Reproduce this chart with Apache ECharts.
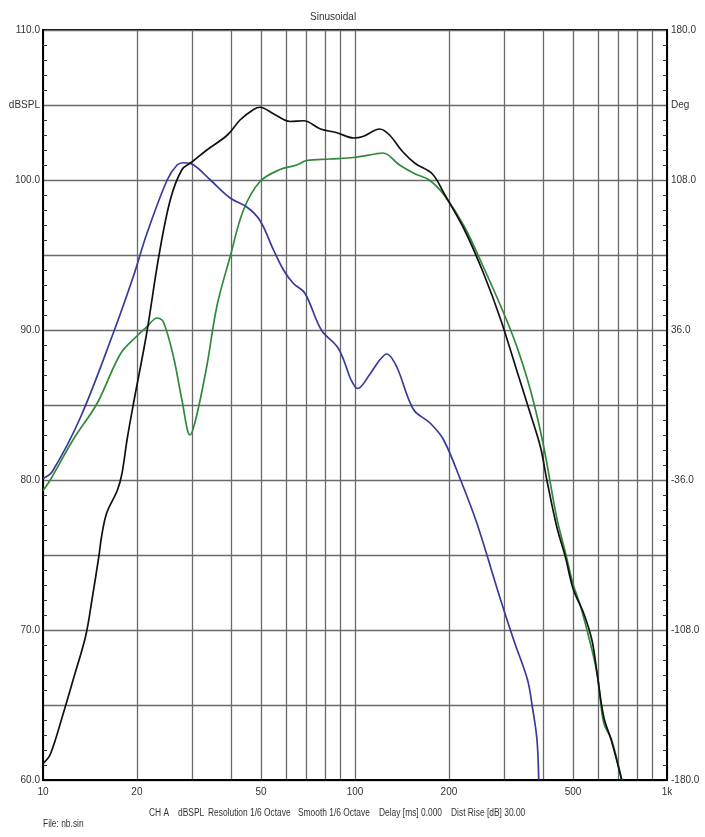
<!DOCTYPE html>
<html>
<head>
<meta charset="utf-8">
<script src="https://cdn.jsdelivr.net/npm/echarts@6/dist/echarts.min.js"></script>
<style>
  html, body { margin: 0; padding: 0; background: #fff; }
  #chart { width: 705px; height: 837px; }
</style>
</head>
<body>
<div id="chart"></div>
<script>
// frequency response readings (Hz / dBSPL)
const blackFreq = [10, 10.55, 11.6, 12.5, 13.7, 14.4, 15.1, 15.4, 16.0, 17.3, 17.9, 18.6, 19.5, 21.5, 23.5, 25.6, 27.9, 30, 33.5, 39, 42.8, 47.3, 49.6, 54.9, 62, 68.5, 77.5, 87.6, 99, 106, 120, 129, 142, 156, 177, 193, 224, 258, 293, 330, 365, 393, 412, 443, 472, 501, 541, 575, 597, 627, 664, 716];
const blackDb = [61.1, 61.7, 64.4, 66.7, 69.6, 72.2, 74.9, 76.2, 77.8, 79.3, 80.4, 82.7, 85.1, 89.8, 94.9, 98.7, 100.7, 101.2, 102.0, 103.0, 104.0, 104.7, 104.85, 104.4, 103.9, 103.95, 103.4, 103.15, 102.8, 102.9, 103.4, 103.0, 101.9, 101.1, 100.4, 99.1, 96.7, 93.8, 90.7, 87.3, 84.4, 82.2, 80.0, 76.9, 74.9, 72.7, 71.1, 69.3, 67.1, 64.2, 62.6, 60.0];

const blueFreq = [10, 10.7, 13.2, 16.8, 19.5, 21.5, 25, 26.9, 28.2, 30.4, 34.4, 39.8, 45, 49.6, 54.9, 59, 63.5, 69.1, 78, 87.6, 92, 97, 102, 112, 120, 126.4, 136, 154, 174, 192, 218, 246, 293, 323, 357, 370, 383, 388];
const blueDb = [80.1, 80.55, 84.2, 89.8, 93.6, 96.4, 100, 101, 101.15, 101, 100, 98.8, 98.2, 97.3, 95.3, 94, 93.1, 92.45, 90, 88.9, 88.0, 86.7, 86.1, 87.1, 88.0, 88.4, 87.55, 84.7, 83.8, 82.7, 80, 77.1, 72, 69.3, 66.7, 64.9, 62.7, 60];

const greenFreq = [10, 10.55, 12.5, 14.9, 17.7, 20, 21.5, 23.2, 24.3, 26.2, 27.9, 29.6, 31, 33.5, 36.1, 39.8, 43.9, 49.6, 57.5, 65, 70, 83, 99, 117, 123, 139, 156, 173, 193, 224, 258, 300, 330, 365, 401, 443, 472, 501, 528, 565, 597, 627, 664, 716];
const greenDb = [79.3, 80, 82.7, 85.1, 88.4, 89.6, 90.2, 90.8, 90.55, 88.2, 85.3, 83, 84.2, 87.6, 91.6, 94.9, 98, 99.9, 100.7, 101, 101.3, 101.4, 101.5, 101.75, 101.8, 101.0, 100.4, 100.0, 99.0, 96.9, 94.2, 91.1, 88.9, 86, 82.4, 77.5, 75.2, 73, 71.6, 69.3, 67.1, 63.8, 62.7, 60];

// axis ticks / labels
const freqGrid = [10, 20, 30, 40, 50, 60, 70, 80, 90, 100, 200, 300, 400, 500, 600, 700, 800, 900, 1000];
const freqLabels = [10, 20, 50, 100, 200, 500, 1000];

// footer text pieces and where they start
const footerParts = ['CH A', 'dBSPL', 'Resolution 1/6 Octave', 'Smooth 1/6 Octave', 'Delay [ms] 0.000', 'Dist Rise [dB] 30.00'];
const footerLeft = [149, 178, 208, 298, 379, 451];

const chart = echarts.init(document.getElementById('chart'));

const zip = (xs, ys) => xs.map((x, i) => [x, ys[i]]);
const txt = { fontFamily: 'Liberation Sans, Arial, sans-serif', fontSize: 10, color: '#333' };
const narrowFont = '10px "Liberation Sans", Arial, sans-serif';

// condensed text like the original software's footer
const narrowText = (text, x, y) => ({
  type: 'text',
  x: x,
  y: y,
  scaleX: 0.84,
  style: { text: text, font: narrowFont, fill: '#333', verticalAlign: 'middle' }
});

const lineSeries = (name, xs, ys, color) => ({
  name: name,
  type: 'line',
  data: zip(xs, ys),
  showSymbol: false,
  smooth: 0.35,
  clip: true,
  lineStyle: { color: color, width: 1.7 },
  z: 5
});

chart.setOption({
  backgroundColor: '#fff',
  animation: false,
  title: { text: 'Sinusoidal', left: 310, top: 12, padding: 0, textStyle: { ...txt, fontWeight: 'normal' } },
  graphic: [
    ...footerParts.map((t, i) => narrowText(t, footerLeft[i], 813)),
    narrowText('File: nb.sin', 43, 824)
  ],
  grid: {
    left: 43, right: 38, top: 30, bottom: 57,
    show: true, borderColor: '#000', borderWidth: 2, backgroundColor: '#fff'
  },
  xAxis: {
    type: 'log',
    logBase: 10,
    min: 10,
    max: 1000,
    axisLine: { show: true, onZero: false, lineStyle: { color: '#000', width: 2 } },
    axisTick: { show: false, customValues: freqGrid },
    axisLabel: {
      ...txt,
      margin: 7,
      customValues: freqLabels,
      formatter: v => (v >= 1000 ? '1k' : String(Math.round(v)))
    },
    splitLine: { show: true, lineStyle: { color: '#6a6a6a', width: 1.3 } }
  },
  yAxis: [
    {
      type: 'value',
      position: 'left',
      min: 60,
      max: 110,
      interval: 5,
      axisLine: { show: true, onZero: false, lineStyle: { color: '#000', width: 2 } },
      axisTick: { show: false, inside: true },
      minorTick: { show: true, splitNumber: 5, length: 4, lineStyle: { color: '#333', width: 1 } },
      axisLabel: {
        ...txt,
        margin: 3,
        formatter: v => (v === 105 ? 'dBSPL' : (v % 10 === 0 ? v.toFixed(1) : ''))
      },
      splitLine: { show: true, lineStyle: { color: '#6a6a6a', width: 1.3 } }
    },
    {
      type: 'value',
      position: 'right',
      min: -180,
      max: 180,
      interval: 36,
      axisLine: { show: true, onZero: false, lineStyle: { color: '#000', width: 2 } },
      axisTick: { show: false, inside: true },
      minorTick: { show: true, splitNumber: 5, length: 4, lineStyle: { color: '#333', width: 1 } },
      axisLabel: {
        ...txt,
        margin: 4,
        formatter: v => (v === 144 ? 'Deg' : ((v + 180) % 72 === 0 ? v.toFixed(1) : ''))
      },
      splitLine: { show: false }
    }
  ],
  series: [
    lineSeries('Green', greenFreq, greenDb, '#2f8a3a'),
    lineSeries('Blue', blueFreq, blueDb, '#3a3a9a'),
    lineSeries('Black', blackFreq, blackDb, '#111111')
  ]
});

window.addEventListener('resize', () => chart.resize());
</script>
</body>
</html>
